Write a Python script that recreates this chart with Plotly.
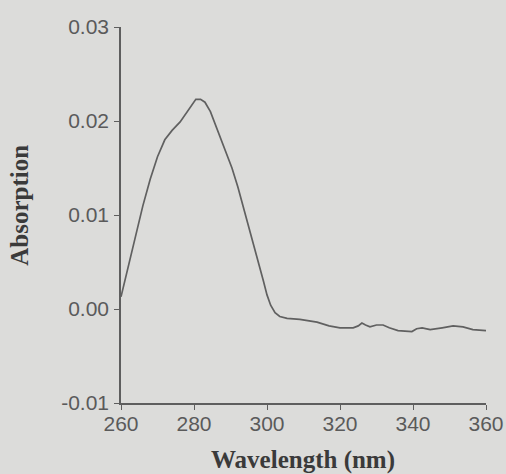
import plotly.graph_objects as go

wavelength = [260, 262, 264, 266, 268, 270, 272, 274, 276.2, 278, 279.5, 280.5, 281.8, 283,
              284.5, 286.3, 288.5, 290.4, 292, 294, 296, 297.3, 299, 300, 301, 302.2, 303.5,
              305.5, 309, 313.7, 317, 320, 323.6, 325, 326, 327, 328.2, 330, 331.8, 333.5,
              335.9, 339.7, 341, 342.5, 344.7, 348, 351, 353.7, 356.4, 360]
absorption = [0.0013, 0.0046, 0.0080, 0.0110, 0.0138, 0.0162, 0.0180, 0.0190, 0.0199, 0.0209,
              0.0218, 0.0223, 0.0223, 0.0220, 0.0210, 0.0191, 0.0170, 0.0150, 0.0130, 0.0102,
              0.0072, 0.0055, 0.0030, 0.0015, 0.0004, -0.0004, -0.0008, -0.0010, -0.0011,
              -0.0014, -0.0018, -0.0020, -0.0020, -0.0018, -0.0015, -0.0017, -0.0019, -0.0017,
              -0.0017, -0.0020, -0.0023, -0.0024, -0.0021, -0.0020, -0.0022, -0.0020, -0.0018,
              -0.0019, -0.0022, -0.0023]

x_ticks = [260, 280, 300, 320, 340, 360]
y_ticks = [-0.01, 0.00, 0.01, 0.02, 0.03]
y_tick_labels = ["-0.01", "0.00", "0.01", "0.02", "0.03"]

bg = "#dcdcda"
axis_col = "#5e5e5e"
tick_font = dict(family="Liberation Sans, Arial", size=21, color="#5a5a5a")

fig = go.Figure()
fig.add_trace(go.Scatter(x=wavelength, y=absorption, mode="lines",
                         line=dict(color="#606060", width=1.7),
                         hoverinfo="skip", showlegend=False))

fig.update_layout(
    width=506, height=474,
    margin=dict(l=121, r=20, t=27, b=71),
    paper_bgcolor=bg, plot_bgcolor=bg,
    xaxis=dict(range=[260, 360], tickvals=x_ticks, ticks="outside", ticklen=5,
               tickcolor=axis_col, showline=True, linecolor=axis_col, linewidth=1.5,
               showgrid=False, zeroline=False, tickfont=tick_font, automargin=False,
               ticklabelstandoff=-4),
    yaxis=dict(range=[-0.01, 0.03], tickvals=y_ticks, ticktext=y_tick_labels,
               ticks="outside", ticklen=5, tickcolor=axis_col, showline=True,
               linecolor=axis_col, linewidth=1.5, showgrid=False, zeroline=False,
               tickfont=tick_font, automargin=False, ticklabelstandoff=1),
    annotations=[
        dict(text="<b>Absorption</b>", xref="paper", yref="paper", x=-0.277, y=0.527,
             textangle=-90, showarrow=False, xanchor="center", yanchor="middle",
             font=dict(family="Liberation Serif, Times New Roman", size=25, color="#3a3a3a")),
        dict(text="<b>Wavelength (nm)</b>", xref="paper", yref="paper", x=0.499, y=-0.152,
             showarrow=False, xanchor="center", yanchor="middle",
             font=dict(family="Liberation Serif, Times New Roman", size=25, color="#3a3a3a")),
    ],
)

fig.write_html("out.html", config={"displayModeBar": False},
               post_script="document.body.style.margin='0';document.body.style.overflow='hidden';"
                           "document.body.style.background='#dcdcda';")
